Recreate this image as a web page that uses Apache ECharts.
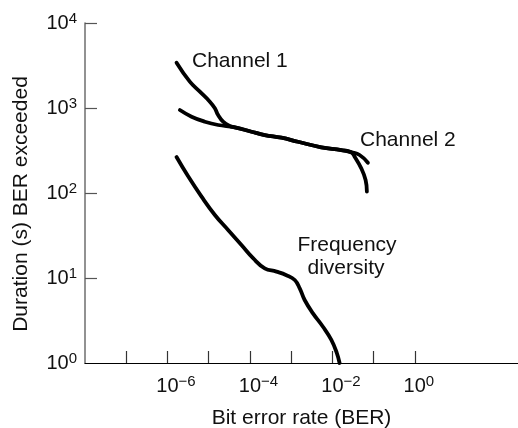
<!DOCTYPE html>
<html>
<head>
<meta charset="utf-8">
<script src="https://cdn.jsdelivr.net/npm/echarts@6/dist/echarts.min.js"></script>
<style>
  html, body { margin: 0; padding: 0; background: #fff; }
  #chart { width: 518px; height: 428px; }
</style>
</head>
<body>
<div id="chart"></div>
<script>
// Bit error rate (BER) and duration (s) that the BER is exceeded, per curve
const channel1Ber = [1.66e-6, 3.48e-6, 6.1e-6, 1.065e-5, 1.41e-5, 1.69e-5, 2.23e-5, 3.24e-5, 4.29e-5, 1.09e-4, 2.28e-4, 5.79e-4, 1.46e-3, 5.38e-3, 1.64e-2, 2.87e-2, 3.45e-2, 5.01e-2, 6.37e-2, 6.84e-2];
const channel1Dur = [3410, 2040, 1555, 1186, 991, 827, 690, 614, 593, 526, 481, 447, 401, 345, 320, 301, 267, 195, 142, 104];

const channel2Ber = [2.0e-6, 3.84e-6, 8.05e-6, 1.69e-5, 4.29e-5, 1.09e-4, 2.28e-4, 5.79e-4, 1.46e-3, 5.38e-3, 1.64e-2, 2.87e-2, 4.56e-2, 7.25e-2];
const channel2Dur = [947, 790, 690, 631, 593, 526, 481, 447, 401, 345, 320, 301, 280, 227];

const diversityBer = [1.66e-6, 3.17e-6, 6.7e-6, 1.41e-5, 2.95e-5, 6.22e-5, 1.19e-4, 2.28e-4, 4.39e-4, 7.66e-4, 1.22e-3, 1.61e-3, 2.12e-3, 3.37e-3, 5.89e-3, 9.4e-3, 1.285e-2, 1.49e-2];
const diversityDur = [265, 157, 90.5, 55.1, 36.7, 24.4, 17.1, 13.0, 11.9, 10.8, 9.47, 7.56, 5.51, 3.84, 2.67, 1.87, 1.30, 1.0];

// Axis ticks and labelled decades
const xTickValues = [1e-7, 1e-6, 1e-5, 1e-4, 1e-3, 1e-2, 1e-1, 1];
const xLabelValues = [1e-6, 1e-4, 1e-2, 1];
const yTickValues = [10, 100, 1000, 10000];
const yLabelValues = [1, 10, 100, 1000, 10000];

const FONT = 'Liberation Sans, Arial, Helvetica, sans-serif';
const INK = '#111';

function pairs(xs, ys) {
  return xs.map((x, i) => [x, ys[i]]);
}

function expText(v) {
  const e = Math.round(Math.log10(v));
  return e < 0 ? '\u2212' + (-e) : String(e);
}

const powerRich = {
  b: { fontSize: 20, lineHeight: 24, fontFamily: FONT, color: INK },
  s: { fontSize: 15, lineHeight: 17, fontFamily: FONT, color: INK, verticalAlign: 'top' },
  pw: { width: 17, fontSize: 15 },
  pn: { width: 8, fontSize: 15 }
};

function curve(name, xs, ys) {
  return {
    name: name,
    type: 'line',
    data: pairs(xs, ys),
    showSymbol: false,
    smooth: 0.45,
    lineStyle: { color: '#000', width: 3.8, cap: 'round', join: 'round' },
    emphasis: { disabled: true },
    silent: true,
    z: 3
  };
}

const chart = echarts.init(document.getElementById('chart'), null, { renderer: 'canvas' });

chart.setOption({
  backgroundColor: '#fff',
  animation: false,
  grid: { left: 85, right: 0, top: 23, bottom: 65, containLabel: false, outerBoundsMode: 'none' },
  xAxis: {
    type: 'log',
    logBase: 10,
    min: 1e-8,
    max: 316,
    name: 'Bit error rate (BER)',
    nameLocation: 'middle',
    nameGap: 45,
    nameTextStyle: { fontSize: 21, fontFamily: FONT, color: INK },
    axisLine: { show: true, lineStyle: { color: '#000', width: 1.2 } },
    axisTick: {
      show: true, inside: true, length: 12,
      customValues: xTickValues,
      lineStyle: { color: '#333', width: 1.2 }
    },
    axisLabel: {
      show: true,
      margin: 11,
      customValues: xLabelValues,
      formatter: v => '{' + (v < 1 ? 'pw' : 'pn') + '| }{b|10}{s|' + expText(v) + '}',
      rich: powerRich
    },
    splitLine: { show: false },
    minorTick: { show: false }
  },
  yAxis: {
    type: 'log',
    logBase: 10,
    min: 1,
    max: 10000,
    name: 'Duration (s) BER exceeded',
    nameLocation: 'middle',
    nameGap: 53,
    nameTextStyle: { fontSize: 21, fontFamily: FONT, color: INK, padding: [0, 22, 0, 0] },
    axisLine: { show: true, lineStyle: { color: '#777', width: 1.6 } },
    axisTick: {
      show: true, inside: true, length: 12,
      customValues: yTickValues,
      lineStyle: { color: '#555', width: 1.2 }
    },
    axisLabel: {
      show: true,
      margin: 8,
      customValues: yLabelValues,
      formatter: v => '{b|10}{s|' + expText(v) + '}',
      rich: powerRich
    },
    splitLine: { show: false },
    minorTick: { show: false }
  },
  series: [
    curve('Channel 1', channel1Ber, channel1Dur),
    curve('Channel 2', channel2Ber, channel2Dur),
    curve('Frequency diversity', diversityBer, diversityDur)
  ],
  graphic: [
    { type: 'text', x: 192, y: 61,
      style: { text: 'Channel 1', font: '21px ' + FONT, fill: INK, verticalAlign: 'middle' } },
    { type: 'text', x: 360, y: 140,
      style: { text: 'Channel 2', font: '21px ' + FONT, fill: INK, verticalAlign: 'middle' } },
    { type: 'text', x: 347, y: 245,
      style: { text: 'Frequency', font: '21px ' + FONT, fill: INK, align: 'center', verticalAlign: 'middle' } },
    { type: 'text', x: 346, y: 268,
      style: { text: 'diversity', font: '21px ' + FONT, fill: INK, align: 'center', verticalAlign: 'middle' } }
  ]
});
</script>
</body>
</html>
